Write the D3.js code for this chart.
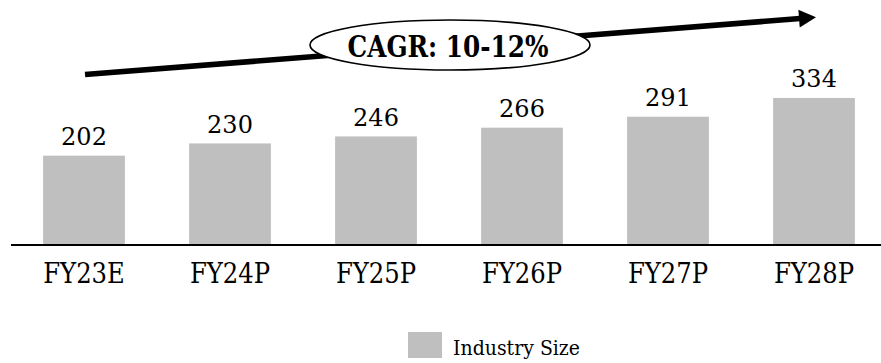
<!DOCTYPE html>
<html>
<head>
<meta charset="utf-8">
<script src="https://cdn.jsdelivr.net/npm/d3@7"></script>
<style>
  html, body { margin: 0; padding: 0; background: #fff; }
  svg { display: block; }
</style>
</head>
<body>
<svg id="chart" width="881" height="363"></svg>
<script>
const categories = ["FY23E", "FY24P", "FY25P", "FY26P", "FY27P", "FY28P"];
const industrySize = [202, 230, 246, 266, 291, 334];
const seriesName = "Industry Size";
const cagrLabel = "CAGR: 10-12%";

const W = 881, H = 363;
const svg = d3.select("#chart");

const x = d3.scaleBand().domain(categories).range([11, 887]).paddingInner(0.44).paddingOuter(0.22);
const y = d3.scaleLinear().domain([0, 558]).range([244, 0]);

const barColor = "#bfbfbf";

// bars
svg.append("g").selectAll("rect").data(industrySize).join("rect")
  .attr("x", (d, i) => x(categories[i]))
  .attr("y", d => y(d))
  .attr("width", x.bandwidth())
  .attr("height", d => y(0) - y(d))
  .attr("fill", barColor);

// value labels
svg.append("g").selectAll("text").data(industrySize).join("text")
  .attr("x", (d, i) => x(categories[i]) + x.bandwidth() / 2)
  .attr("y", d => y(d) - 10.7)
  .attr("text-anchor", "middle")
  .attr("font-family", "DejaVu Serif")
  .attr("font-size", 24)
  .attr("fill", "#000")
  .text(d => d);

// x axis
const xAxis = d3.axisBottom(x).tickSize(0).tickPadding(0);
const gx = svg.append("g").attr("transform", `translate(0,${y(0)})`).call(xAxis);
gx.select(".domain").remove();
gx.append("line").attr("x1", 11).attr("x2", W).attr("y1", 1).attr("y2", 1)
  .attr("stroke", "#000").attr("stroke-width", 2);
gx.selectAll(".tick text")
  .attr("y", 39).attr("dy", 0)
  .attr("font-family", "DejaVu Serif Condensed")
  .attr("font-size", 27)
  .attr("fill", "#000");

// CAGR arrow
const start = [85, 74.5], tip = [816, 17.3];
const dx = tip[0] - start[0], dy = tip[1] - start[1];
const len = Math.hypot(dx, dy), ux = dx / len, uy = dy / len;
const headLen = 17, headHalf = 8.8;
const base = [tip[0] - ux * headLen, tip[1] - uy * headLen];
svg.append("line")
  .attr("x1", start[0]).attr("y1", start[1])
  .attr("x2", base[0] + ux * 1).attr("y2", base[1] + uy * 1)
  .attr("stroke", "#000").attr("stroke-width", 5.5);
svg.append("path")
  .attr("d", d3.line()([
    tip,
    [base[0] - uy * headHalf, base[1] + ux * headHalf],
    [base[0] + uy * headHalf, base[1] - ux * headHalf]
  ]) + "Z")
  .attr("fill", "#000");

// ellipse + label
svg.append("ellipse")
  .attr("cx", 450).attr("cy", 45).attr("rx", 140).attr("ry", 25)
  .attr("fill", "#fff").attr("stroke", "#000").attr("stroke-width", 1.6);
svg.append("text")
  .attr("x", 347.5).attr("y", 57.3)
  .attr("font-family", "DejaVu Serif Condensed")
  .attr("font-weight", "bold")
  .attr("font-size", 29)
  .attr("textLength", 201)
  .attr("lengthAdjust", "spacingAndGlyphs")
  .attr("fill", "#000")
  .text(cagrLabel);

// legend
const lg = svg.append("g");
lg.append("rect").attr("x", 408).attr("y", 332).attr("width", 34).attr("height", 26).attr("fill", barColor);
lg.append("text").attr("x", 453).attr("y", 355)
  .attr("font-family", "DejaVu Serif Condensed")
  .attr("font-size", 20)
  .attr("textLength", 127)
  .attr("lengthAdjust", "spacingAndGlyphs")
  .attr("fill", "#000")
  .text(seriesName);
</script>
</body>
</html>
